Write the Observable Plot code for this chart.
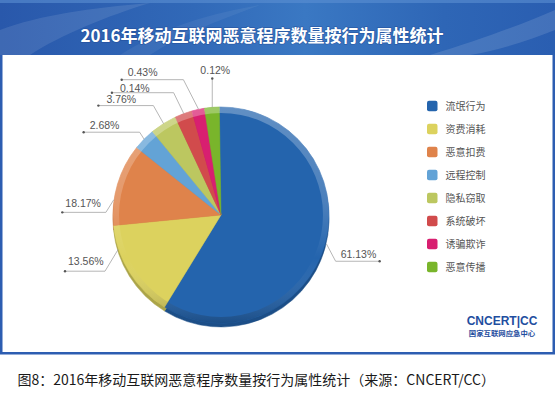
<!DOCTYPE html>
<html><head><meta charset="utf-8">
<script src="https://cdn.jsdelivr.net/npm/d3@7"></script>
<script src="https://cdn.jsdelivr.net/npm/@observablehq/plot@0.6"></script>
<style>html,body{margin:0;padding:0;background:#fff;} svg{display:block}</style>
</head><body><div id="chart"></div>
<script>
// ---- data ----
const chartTitle = "2016年移动互联网恶意程序数量按行为属性统计";
const caption = "图8：2016年移动互联网恶意程序数量按行为属性统计（来源：CNCERT/CC）";
const categories = ["流氓行为","资费消耗","恶意扣费","远程控制","隐私窃取","系统破坏","诱骗欺诈","恶意传播"];
// slice sizes as drawn in the pie (percent)
const sliceShares = [59.0, 14.7, 12.3, 3.3, 4.0, 2.6, 1.9, 2.2];
// value labels printed beside the slices
const labelTexts = ["61.13%","13.56%","18.17%","2.68%","3.76%","0.14%","0.43%","0.12%"];
const colors = ["#2464ad","#dcd25e","#df834b","#63a3d6","#bcc760","#d14b4c","#d81f70","#79b52b"];
const logoText = "CNCERT|CC";
const logoSub = "国家互联网应急中心";

// ---- layout ----
const W = 555, H = 395;
const CX = 221, CY = 215, R = 108;
const START = -0.9 * Math.PI / 180;
const labelLayout = [
  {at:0.5,  dx:9,    dy:17,    len:44,    tx:5, ty:-6.5, anchor:"start"},
  {at:0.76, dx:-13,  dy:21.5,  len:-40,   tx:3, ty:-9.5, anchor:"start"},
  {at:0.31, dx:-7.7, dy:12.3,  len:-43.6, tx:3, ty:-9,   anchor:"start"},
  {at:0.5,  dx:-4.3, dy:-6.7,  len:-56,   tx:6, ty:-6.6, anchor:"start"},
  {at:0.5,  dx:-10,  dy:-17.7, len:-55,   tx:8, ty:-5.6, anchor:"start"},
  {at:0.5,  dx:-10,  dy:-20.6, len:-61.7, tx:8, ty:-4.4, anchor:"start"},
  {at:0.5,  dx:-15,  dy:-29.3, len:-61.7, tx:6, ty:-7.3, anchor:"start"},
  {at:0.5,  dx:0,    dy:-28.4, len:0,     tx:3, ty:-7.6, anchor:"middle"}
];

const arcs = d3.pie().sort(null).startAngle(START).endAngle(START + 2 * Math.PI)(sliceShares);

const leaderPts = [], ends = [], labelRows = [];
arcs.forEach((a, i) => {
  const L = labelLayout[i];
  const ang = a.startAngle + L.at * (a.endAngle - a.startAngle);
  const ax = CX + (R + 1) * Math.sin(ang), ay = CY - (R + 1) * Math.cos(ang);
  const ex = ax + L.dx, ey = ay + L.dy;
  const fx = ex + L.len;
  leaderPts.push({i, x: ax, y: ay}, {i, x: ex, y: ey}, {i, x: fx, y: ey});
  ends.push({x: fx, y: ey});
  labelRows.push({text: labelTexts[i], x: Math.min(ex, fx) + L.tx, y: ey + L.ty, anchor: L.anchor});
});

const legendRows = categories.map((c, i) => ({cat: c, y: 106 + i * 23}));

function background() {
  const g = d3.create("svg:g");
  const defs = g.append("defs");
  const lg = defs.append("linearGradient").attr("id", "tbg").attr("x1", 0).attr("x2", 1).attr("y1", 0).attr("y2", 0);
  [[0, "#2958ab"], [0.35, "#3169b8"], [0.55, "#3a78c3"], [0.8, "#2e66b6"], [1, "#2a5eb1"]]
    .forEach(([o, c]) => lg.append("stop").attr("offset", o).attr("stop-color", c));
  g.append("rect").attr("x", 1.25).attr("y", 1.25).attr("width", W - 2.5).attr("height", 352)
    .attr("fill", "#fff").attr("stroke", "#2d5db1").attr("stroke-width", 2.5);
  g.append("rect").attr("x", 0).attr("y", 0).attr("width", W).attr("height", 55).attr("fill", "url(#tbg)");
  g.append("rect").attr("x", 0).attr("y", 0).attr("width", W).attr("height", 3).attr("fill", "#5b8fd2").attr("opacity", 0.6);
  g.append("path").attr("d", "M0,55 L0,30 C40,15 90,8 150,3 C110,15 60,35 30,55 Z").attr("fill", "#fff").attr("opacity", 0.10);
  g.append("path").attr("d", "M120,55 C160,30 200,15 260,5 C220,20 180,35 150,55 Z").attr("fill", "#fff").attr("opacity", 0.06);
  g.append("path").attr("d", "M430,55 C480,40 520,25 555,10 L555,30 C530,40 500,50 470,55 Z").attr("fill", "#fff").attr("opacity", 0.12);
  return g.node();
}

function pie(index, scales) {
  const g = d3.create("svg:g").attr("transform", `translate(${scales.x(CX)},${scales.y(CY)})`);
  const defs = g.append("defs");
  const rg = defs.append("linearGradient").attr("id", "rim").attr("gradientUnits", "userSpaceOnUse")
    .attr("x1", 0).attr("x2", 0).attr("y1", -R).attr("y2", R);
  [[0, "#fff", 0.28], [0.45, "#fff", 0.18], [0.7, "#fff", 0.0], [1, "#000", 0.22]]
    .forEach(([o, c, op]) => rg.append("stop").attr("offset", o).attr("stop-color", c).attr("stop-opacity", op));
  const arc = d3.arc().innerRadius(0).outerRadius(R);
  // 3D bottom edge
  g.append("g").attr("transform", "translate(0,4)").selectAll("path").data(arcs).join("path")
    .attr("d", arc).attr("fill", (d, i) => d3.color(scales.color(categories[i])).darker(0.7))
    .attr("stroke", (d, i) => d3.color(scales.color(categories[i])).darker(0.7)).attr("stroke-width", 0.5);
  g.append("g").selectAll("path").data(arcs).join("path")
    .attr("d", arc).attr("fill", (d, i) => scales.color(categories[i]))
    .attr("stroke", (d, i) => scales.color(categories[i])).attr("stroke-width", 0.5);
  g.append("path").attr("d", d3.arc().innerRadius(R - 6).outerRadius(R).startAngle(0).endAngle(2 * Math.PI)())
    .attr("fill", "url(#rim)");
  return g.node();
}

const cjk = "'Noto Sans CJK SC', 'Noto Sans', sans-serif";
const labelFont = "'Liberation Sans', Arial, sans-serif";

const chart = Plot.plot({
  width: W, height: H, margin: 0,
  style: {fontFamily: cjk, background: "#fff", overflow: "visible"},
  x: {domain: [0, W], range: [0, W], axis: null},
  y: {domain: [0, H], range: [0, H], axis: null},
  color: {domain: categories, range: colors},
  marks: [
    background,
    pie,
    Plot.line(leaderPts, {x: "x", y: "y", z: "i", stroke: "#a3a3a3", strokeWidth: 0.8}),
    Plot.dot(ends, {x: "x", y: "y", r: 1.2, fill: "#555"}),
    Plot.text(labelRows.filter(d => d.anchor === "start"), {x: "x", y: "y", text: "text", textAnchor: "start",
      fontFamily: labelFont, fontSize: 10.5, fill: "#555"}),
    Plot.text(labelRows.filter(d => d.anchor === "middle"), {x: "x", y: "y", text: "text", textAnchor: "middle",
      fontFamily: labelFont, fontSize: 10.5, fill: "#555"}),
    Plot.rect(legendRows, {x1: () => 427, x2: () => 437.5, y1: d => d.y - 5.2, y2: d => d.y + 5.2,
      fill: "cat", rx: 2}),
    Plot.text(legendRows, {x: () => 445, y: "y", text: "cat", textAnchor: "start",
      fontFamily: cjk, fontSize: 10, fill: "#555"}),
    Plot.text([chartTitle], {frameAnchor: "top", dx: -16, dy: 29, text: d => d, fill: "#fff",
      fontSize: 17, fontWeight: "bold", fontFamily: cjk, stroke: "#1d4690", strokeWidth: 1.5, strokeOpacity: 0.5}),
    Plot.text([logoText], {x: () => 501.5, y: () => 320.5, text: d => d, fill: "#1f4ea0", fontSize: 12,
      fontWeight: "bold", fontFamily: labelFont}),
    Plot.text([logoSub], {x: () => 501.5, y: () => 333.5, text: d => d, fill: "#1f4ea0", fontSize: 7.4,
      fontWeight: "bold", fontFamily: cjk}),
    Plot.text([caption], {x: () => 17, y: () => 380, text: d => d, textAnchor: "start", fill: "#1a1a1a",
      fontSize: 14, fontFamily: cjk})
  ]
});
document.getElementById("chart").appendChild(chart);
</script>
</body></html>
